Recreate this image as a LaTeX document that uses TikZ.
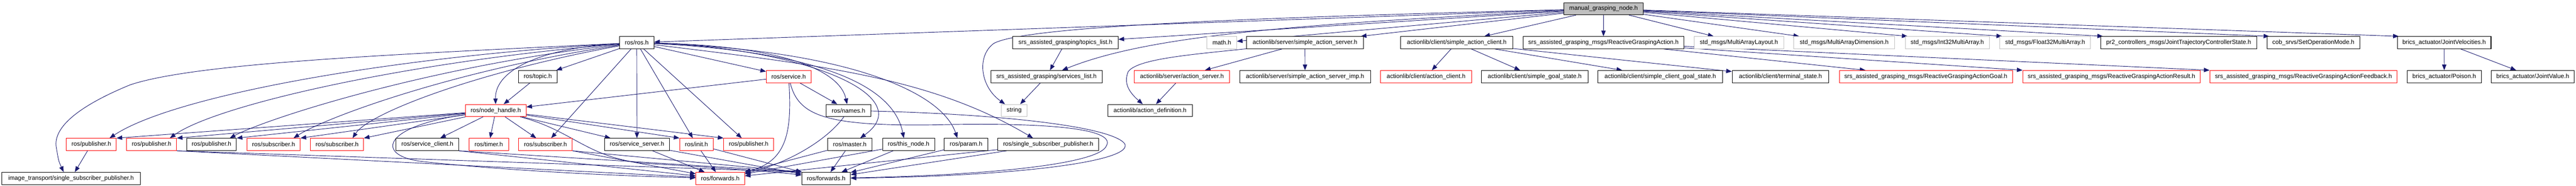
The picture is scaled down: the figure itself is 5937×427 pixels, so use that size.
\documentclass[tikz,border=0pt]{standalone}
\usepackage{fontspec}
\setmainfont{Liberation Sans}
\usetikzlibrary{arrows.meta}
\definecolor{edgeblue}{HTML}{191970}
\definecolor{grayline}{HTML}{BFBFBF}
\pgfdeclarelayer{bg}
\pgfsetlayers{bg,main}
\begin{document}
\begin{tikzpicture}[x=1pt,y=-1pt,
  nbox/.style={draw, line width=1.2pt, minimum height=28pt, inner xsep=2pt, inner ysep=0pt,
    fill=white, text=black, font=\fontsize{14pt}{16pt}\selectfont},
  bk/.style={nbox, draw=black},
  rd/.style={nbox, draw=red},
  gy/.style={nbox, draw=grayline},
  dep/.style={draw=edgeblue, line width=1.1pt, -{Triangle[length=13pt,width=10pt]}}]
\useasboundingbox (0,0) rectangle (5937,427);
% row 0
\node[bk, fill=grayline, minimum width=182.5pt] (mgn) at (3695.75,20) {manual\_grasping\_node.h};
% row 1
\node[bk, minimum width=79pt] (rosh) at (1467.5,98) {ros/ros.h};
\node[bk, minimum width=243pt] (topics) at (2455.5,98) {srs\_assisted\_grasping/topics\_list.h};
\node[gy, minimum width=68pt] (math) at (2816,98) {math.h};
\node[bk, minimum width=269pt] (sas) at (3007.5,98) {actionlib/server/simple\_action\_server.h};
\node[bk, minimum width=259pt] (sac) at (3357.5,98) {actionlib/client/simple\_action\_client.h};
\node[bk, minimum width=371pt] (rga) at (3695.5,98) {srs\_assisted\_grasping\_msgs/ReactiveGraspingAction.h};
\node[gy, minimum width=206.5pt] (mal) at (4007.75,98) {std\_msgs/MultiArrayLayout.h};
\node[gy, minimum width=232.5pt] (mad) at (4250.25,98) {std\_msgs/MultiArrayDimension.h};
\node[gy, minimum width=194pt] (i32) at (4488,98) {std\_msgs/Int32MultiArray.h};
\node[gy, minimum width=209pt] (f32) at (4713.5,98) {std\_msgs/Float32MultiArray.h};
\node[bk, minimum width=359.5pt] (pr2) at (5021.25,98) {pr2\_controllers\_msgs/JointTrajectoryControllerState.h};
\node[bk, minimum width=214.5pt] (cob) at (5331.75,98) {cob\_srvs/SetOperationMode.h};
\node[bk, minimum width=216pt] (jvel) at (5633,98) {brics\_actuator/JointVelocities.h};
% row 2
\node[bk, minimum width=89pt] (topic) at (1239.5,176) {ros/topic.h};
\node[rd, minimum width=103pt] (service) at (1817.5,176) {ros/service.h};
\node[bk, minimum width=256.5pt] (services) at (2411.75,176) {srs\_assisted\_grasping/services\_list.h};
\node[rd, minimum width=220pt] (as) at (2724,176) {actionlib/server/action\_server.h};
\node[bk, minimum width=301.5pt] (sasi) at (3007.75,176) {actionlib/server/simple\_action\_server\_imp.h};
\node[rd, minimum width=209.5pt] (ac) at (3286.75,176) {actionlib/client/action\_client.h};
\node[bk, minimum width=246pt] (sgs) at (3537,176) {actionlib/client/simple\_goal\_state.h};
\node[bk, minimum width=287pt] (scgs) at (3826.5,176) {actionlib/client/simple\_client\_goal\_state.h};
\node[bk, minimum width=223pt] (ts) at (4103.5,176) {actionlib/client/terminal\_state.h};
\node[rd, minimum width=399pt] (goal) at (4438.5,176) {srs\_assisted\_grasping\_msgs/ReactiveGraspingActionGoal.h};
\node[rd, minimum width=409pt] (result) at (4866.5,176) {srs\_assisted\_grasping\_msgs/ReactiveGraspingActionResult.h};
\node[rd, minimum width=431.5pt] (feedback) at (5308.75,176) {srs\_assisted\_grasping\_msgs/ReactiveGraspingActionFeedback.h};
\node[bk, minimum width=170.7pt] (poison) at (5633.35,176) {brics\_actuator/Poison.h};
\node[bk, minimum width=190.5pt] (jval) at (5837.25,176) {brics\_actuator/JointValue.h};
% row 3
\node[rd, minimum width=139.5pt] (nh) at (1142.75,254) {ros/node\_handle.h};
\node[bk, minimum width=103pt] (names) at (1955.5,254) {ros/names.h};
\node[gy, minimum width=58.5pt] (string) at (2337.25,254) {string};
\node[bk, minimum width=195pt] (adef) at (2650.5,254) {actionlib/action\_definition.h};
% row 4
\node[rd, minimum width=115pt] (pubA) at (210.5,332) {ros/publisher.h};
\node[rd, minimum width=115.5pt] (pubB) at (349.25,332) {ros/publisher.h};
\node[bk, minimum width=115pt] (pubC) at (487.5,332) {ros/publisher.h};
\node[rd, minimum width=123pt] (subD) at (630.5,332) {ros/subscriber.h};
\node[rd, minimum width=122.4pt] (subE) at (776.8,332) {ros/subscriber.h};
\node[bk, minimum width=144pt] (sclient) at (985,332) {ros/service\_client.h};
\node[rd, minimum width=91pt] (timer) at (1126.5,332) {ros/timer.h};
\node[rd, minimum width=123.5pt] (subF) at (1257.25,332) {ros/subscriber.h};
\node[bk, minimum width=150pt] (sserver) at (1468,332) {ros/service\_server.h};
\node[rd, minimum width=77.5pt] (init) at (1605.25,332) {ros/init.h};
\node[rd, minimum width=115pt] (pubG) at (1725.5,332) {ros/publisher.h};
\node[bk, minimum width=103pt] (master) at (1958.5,332) {ros/master.h};
\node[bk, minimum width=120pt] (thisnode) at (2094,332) {ros/this\_node.h};
\node[bk, minimum width=101pt] (param) at (2226.5,332) {ros/param.h};
\node[bk, minimum width=232.5pt] (ssp) at (2415.75,332) {ros/single\_subscriber\_publisher.h};
% row 5
\node[bk, minimum width=318.5pt] (itssp) at (163.75,410) {image\_transport/single\_subscriber\_publisher.h};
\node[rd, minimum width=112pt] (fwdR) at (1660,410) {ros/forwards.h};
\node[bk, minimum width=112pt] (fwdB) at (1904,410) {ros/forwards.h};

\begin{pgfonlayer}{bg}
\fill[white] (0,0) rectangle (5937,427);
% manual_grasping_node.h
\draw[dep] (mgn) -- (rosh);
\draw[dep] (mgn) -- (topics);
\draw[dep] (mgn) .. controls (3000,55) and (2650,80) .. (services);
\draw[dep] (mgn) .. controls (2900,40) and (2360,60) .. (2290,100) .. controls (2250,130) and (2260,200) .. (string);
\draw[dep] (mgn) -- (math);
\draw[dep] (mgn) -- (sas);
\draw[dep] (mgn) -- (sac);
\draw[dep] (mgn) -- (rga);
\draw[dep] (mgn) -- (mal);
\draw[dep] (mgn) -- (mad);
\draw[dep] (mgn) -- ([xshift=6pt]i32.north west);
\draw[dep] (mgn) -- ([xshift=6pt]f32.north west);
\draw[dep] (mgn) -- ([xshift=6pt]pr2.north west);
\draw[dep] (mgn) -- ([xshift=6pt]cob.north west);
\draw[dep] (mgn) -- ([xshift=4pt]jvel.north west);
% ros/ros.h
\draw[dep] (rosh) .. controls (900,125) and (450,145) .. (300,195) .. controls (190,240) and (120,290) .. (130,340) .. controls (135,370) .. ([xshift=-17pt]itssp.north);
\draw[dep] (rosh) .. controls (900,130) and (400,220) .. ([xshift=-16pt]pubA.north east);
\draw[dep] (rosh) .. controls (950,140) and (500,240) .. ([xshift=-16pt]pubB.north east);
\draw[dep] (rosh) .. controls (1000,150) and (620,270) .. ([xshift=-16pt]pubC.north east);
\draw[dep] (rosh) .. controls (1050,160) and (750,270) .. ([xshift=-16pt]subD.north east);
\draw[dep] (rosh) .. controls (1100,165) and (850,260) .. ([xshift=-26pt]subE.north east);
\draw[dep] (rosh) .. controls (1250,110) and (1140,160) .. (nh);
\draw[dep] (rosh) -- (topic);
\draw[dep] (rosh) -- (subF);
\draw[dep] (rosh) -- (sserver);
\draw[dep] (rosh) -- (init);
\draw[dep] (rosh) -- (pubG);
\draw[dep] (rosh) -- (service);
\draw[dep] (rosh) .. controls (1800,105) and (1935,160) .. (names);
\draw[dep] (rosh) .. controls (1850,110) and (2120,220) .. ([xshift=24pt]master.north);
\draw[dep] (rosh) .. controls (1900,120) and (2060,200) .. ([xshift=-11pt]thisnode.north);
\draw[dep] (rosh) .. controls (1950,115) and (2170,210) .. ([xshift=-20pt]param.north);
\draw[dep] (rosh) .. controls (1900,150) and (2150,180) .. ([xshift=-35pt]ssp.north);
% topic, service, names
\draw[dep] (topic) -- (nh);
\draw[dep] (service) -- (nh);
\draw[dep] (service) -- (names);
\draw[dep] (service) .. controls (1825,300) and (1815,370) .. (fwdR);
\draw[dep] (service) .. controls (1840,265) and (1900,290) .. (2150,287) .. controls (2450,280) and (2570,300) .. (2550,335) .. controls (2535,375) and (2300,402) .. (fwdB);
\draw[dep] (names) .. controls (1900,330) and (1800,380) .. (fwdR);
\draw[dep] (names) .. controls (2300,262) and (2560,290) .. (2592,330) .. controls (2615,370) and (2350,405) .. (fwdB);
% ros/node_handle.h
\draw[dep] (nh) -- (pubA.north east);
\draw[dep] (nh) -- (pubB.north east);
\draw[dep] (nh) -- (pubC.north east);
\draw[dep] (nh) -- (subD.north east);
\draw[dep] (nh) -- (subE.north east);
\draw[dep] (nh) -- (sclient);
\draw[dep] (nh) -- (timer);
\draw[dep] (nh) -- (subF);
\draw[dep] (nh) -- (sserver);
\draw[dep] (nh) -- (init.north west);
\draw[dep] (nh) -- (pubG.north west);
\draw[dep] (nh) .. controls (880,290) and (860,360) .. (980,372) .. controls (1200,395) and (1450,405) .. (fwdR);
\draw[dep] (nh) .. controls (1320,300) and (1350,360) .. (1480,375) .. controls (1650,385) and (1790,395) .. (fwdB);
% row 4 -> row 5
\draw[dep] (pubA) -- (itssp);
\draw[dep] (pubB.south east) -- (fwdR);
\draw[dep] (pubB.south east) -- (fwdB.north west);
\draw[dep] (sclient.south east) -- (fwdR);
\draw[dep] (sclient.south east) -- (fwdB.north west);
\draw[dep] (subF.south east) -- (fwdR);
\draw[dep] (subF.south east) -- (fwdB.north west);
\draw[dep] (sserver) -- (fwdR);
\draw[dep] (sserver) -- (fwdB);
\draw[dep] (init) -- (fwdR);
\draw[dep] (init) -- (fwdB);
\draw[dep] (master) -- (fwdR);
\draw[dep] (master) -- (fwdB);
\draw[dep] (thisnode) -- (fwdR);
\draw[dep] (thisnode) -- (fwdB);
\draw[dep] (param) -- (fwdB);
\draw[dep] (ssp) -- (fwdR);
\draw[dep] (ssp) -- (fwdB);
% srs / actionlib / msgs
\draw[dep] (topics) -- (services);
\draw[dep] (services) -- (string);
\draw[dep] (sas) -- (sasi);
\draw[dep] (sas) -- (as);
\draw[dep] (sas) .. controls (2750,125) and (2620,135) .. (2600,165) .. controls (2590,190) and (2600,210) .. (adef);
\draw[dep] (as) -- (adef);
\draw[dep] (sac) -- (ac);
\draw[dep] (sac) -- (sgs);
\draw[dep] (sac) -- (scgs);
\draw[dep] (sac) -- (ts);
\draw[dep] (rga) -- (goal);
\draw[dep] (rga) -- (result.north west);
\draw[dep] (rga) -- (feedback.north west);
\draw[dep] (jvel) -- (poison);
\draw[dep] (jvel) -- (jval);
\end{pgfonlayer}
\end{tikzpicture}
\end{document}
